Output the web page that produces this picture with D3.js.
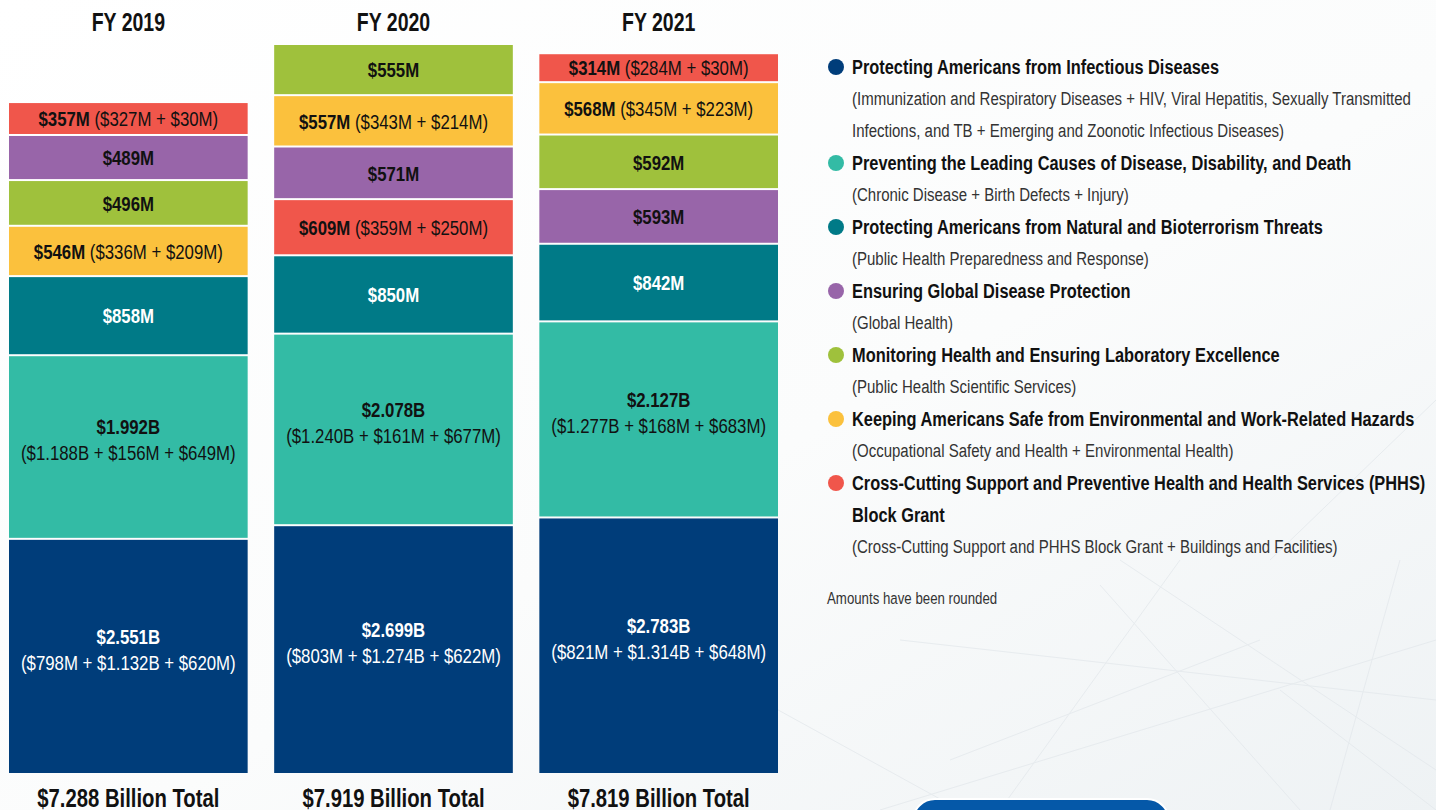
<!DOCTYPE html>
<html>
<head>
<meta charset="utf-8">
<script src="https://cdn.jsdelivr.net/npm/d3@7"></script>
<style>
  html, body { margin: 0; padding: 0; background: #fff; }
  svg { display: block; }
</style>
</head>
<body>
<div id="chart"></div>
<script>
// fiscal years and stated totals
const years = ['FY 2019', 'FY 2020', 'FY 2021'];
const totalLabels = ['$7.288 Billion Total', '$7.919 Billion Total', '$7.819 Billion Total'];

// category keys, in legend order
const categories = ['infectious', 'chronic', 'preparedness', 'global', 'scientific', 'environmental', 'crossCutting'];
const categoryColors = ['#003d7a', '#33bba5', '#007a87', '#9865a9', '#9fc13c', '#fbc13d', '#f0564b'];

// values in $M, one per year
const infectious    = [2551, 2699, 2783];
const chronic       = [1992, 2078, 2127];
const preparedness  = [858, 850, 842];
const globalHealth  = [489, 571, 593];
const scientific    = [496, 555, 592];
const environmental = [546, 557, 568];
const crossCutting  = [357, 609, 314];

// sub-amount breakdowns shown beside / under the value
const infectiousParts    = ['($798M + $1.132B + $620M)', '($803M + $1.274B + $622M)', '($821M + $1.314B + $648M)'];
const chronicParts       = ['($1.188B + $156M + $649M)', '($1.240B + $161M + $677M)', '($1.277B + $168M + $683M)'];
const environmentalParts = ['($336M + $209M)', '($343M + $214M)', '($345M + $223M)'];
const crossCuttingParts  = ['($327M + $30M)', '($359M + $250M)', '($284M + $30M)'];

// legend text
const legendTitles = [
  ['Protecting Americans from Infectious Diseases'],
  ['Preventing the Leading Causes of Disease, Disability, and Death'],
  ['Protecting Americans from Natural and Bioterrorism Threats'],
  ['Ensuring Global Disease Protection'],
  ['Monitoring Health and Ensuring Laboratory Excellence'],
  ['Keeping Americans Safe from Environmental and Work-Related Hazards'],
  ['Cross-Cutting Support and Preventive Health and Health Services (PHHS)', 'Block Grant']
];
const legendSubs = [
  ['(Immunization and Respiratory Diseases + HIV, Viral Hepatitis, Sexually Transmitted', 'Infections, and TB + Emerging and Zoonotic Infectious Diseases)'],
  ['(Chronic Disease + Birth Defects + Injury)'],
  ['(Public Health Preparedness and Response)'],
  ['(Global Health)'],
  ['(Public Health Scientific Services)'],
  ['(Occupational Safety and Health + Environmental Health)'],
  ['(Cross-Cutting Support and PHHS Block Grant + Buildings and Facilities)']
];
const footnote = 'Amounts have been rounded';

const valuesByCat = {
  infectious, chronic, preparedness, global: globalHealth,
  scientific, environmental, crossCutting
};
const partsByCat = {
  infectious: infectiousParts, chronic: chronicParts,
  environmental: environmentalParts, crossCutting: crossCuttingParts
};
const stackedTwoLine = new Set(['infectious', 'chronic']);
const whiteText = new Set(['infectious', 'preparedness']);

const W = 1436, H = 810;
const FONT = "'Liberation Sans', Arial, sans-serif";
const SQUEEZE = 0.78;   // no condensed face installed, so squeeze horizontally

const color = d3.scaleOrdinal().domain(categories).range(categoryColors);
const fmtVal = v => v >= 1000 ? `$${d3.format('.3f')(v / 1000)}B` : `$${v}M`;

const svg = d3.select('#chart').append('svg')
  .attr('width', W).attr('height', H);

// squeezed text helper: returns the <text> so tspans can be added
function label(parent, x, y, opts = {}) {
  const g = parent.append('g')
    .attr('transform', `translate(${x},${y}) scale(${opts.sx || SQUEEZE},1)`);
  return g.append('text')
    .attr('x', 0).attr('y', 0)
    .attr('text-anchor', opts.anchor || 'start')
    .attr('dominant-baseline', opts.baseline || 'central')
    .attr('font-family', FONT)
    .attr('font-weight', opts.weight || 400)
    .attr('font-size', opts.size || 20)
    .attr('fill', opts.fill || '#111');
}

// background: soft white-to-grey wash with faint network lines
const defs = svg.append('defs');
const grad = defs.append('linearGradient').attr('id', 'bg')
  .attr('x1', '0').attr('y1', '0').attr('x2', '1').attr('y2', '1');
grad.append('stop').attr('offset', '0%').attr('stop-color', '#ffffff');
grad.append('stop').attr('offset', '55%').attr('stop-color', '#fbfcfc');
grad.append('stop').attr('offset', '100%').attr('stop-color', '#eef2f4');
svg.append('rect').attr('width', W).attr('height', H).attr('fill', 'url(#bg)');

const net = svg.append('g').attr('stroke', '#e2e7eb').attr('stroke-width', 1).attr('opacity', 0.7);
[[880, 810, 1436, 640], [1100, 585, 1300, 810], [900, 640, 1436, 700], [1270, 560, 1436, 400],
 [1000, 810, 1180, 560], [1280, 690, 1436, 810], [950, 760, 1260, 640], [760, 700, 960, 810],
 [1120, 560, 1436, 770], [1400, 560, 1330, 810]]
  .forEach(([x1, y1, x2, y2]) => net.append('line').attr('x1', x1).attr('y1', y1).attr('x2', x2).attr('y2', y2));

// scales (values in $M)
const x = d3.scaleBand().domain(years).range([9, 778]).paddingInner(0.1);
const sums = years.map((_, i) => d3.sum(categories, c => valuesByCat[c][i]));
const y = d3.scaleLinear().domain([0, d3.max(sums)]).range([775, 45]);
const GAP = 2;

years.forEach((yr, i) => {
  const x0 = x(yr), bw = x.bandwidth(), cx = x0 + bw / 2;

  // largest at the bottom
  const order = categories.slice().sort((a, b) => valuesByCat[b][i] - valuesByCat[a][i]);
  let acc = 0;
  const g = svg.append('g');

  order.forEach(cat => {
    const v = valuesByCat[cat][i];
    const yTop = y(acc + v);
    const yBot = y(acc);
    acc += v;
    const h = yBot - yTop - GAP;

    g.append('rect')
      .attr('x', x0).attr('y', yTop)
      .attr('width', bw).attr('height', h)
      .attr('fill', color(cat));

    const mid = yTop + h / 2;
    const fill = whiteText.has(cat) ? '#ffffff' : '#111111';
    const parts = partsByCat[cat];

    if (stackedTwoLine.has(cat)) {
      label(g, cx, mid - 20, { anchor: 'middle', weight: 700, size: 21, sx: 0.8, fill })
        .text(fmtVal(v));
      label(g, cx, mid + 6, { anchor: 'middle', weight: 400, size: 21, sx: 0.8, fill })
        .text(parts[i]);
    } else {
      const t = label(g, cx, mid, { anchor: 'middle', size: 21, sx: 0.8, fill });
      t.append('tspan').attr('font-weight', 700).text(fmtVal(v));
      if (parts) t.append('tspan').attr('font-weight', 400).text(' ' + parts[i]);
    }
  });

  // year heading
  label(svg, cx, 31, { anchor: 'middle', baseline: 'auto', weight: 700, size: 25 }).text(yr);

  // total under bar
  label(svg, cx, 807, { anchor: 'middle', baseline: 'auto', weight: 700, size: 26 }).text(totalLabels[i]);
});

// legend
const legend = svg.append('g').attr('transform', 'translate(836,0)');
const LINE = 32;
let ly = 67;
categories.forEach((cat, k) => {
  legend.append('circle').attr('cx', 0).attr('cy', ly).attr('r', 8).attr('fill', color(cat));
  legendTitles[k].forEach(line => {
    label(legend, 16, ly, { weight: 700, size: 21, fill: '#111' }).text(line);
    ly += LINE;
  });
  legendSubs[k].forEach(line => {
    label(legend, 16, ly, { weight: 400, size: 19, sx: 0.79, fill: '#333' }).text(line);
    ly += LINE;
  });
});

label(svg, 827, 598, { size: 17, fill: '#333' }).text(footnote);

// partially visible button at bottom edge
svg.append('rect')
  .attr('x', 913).attr('y', 799).attr('width', 256).attr('height', 60)
  .attr('rx', 22).attr('fill', '#0558a8').attr('stroke', '#fff').attr('stroke-width', 2);
</script>
</body>
</html>
